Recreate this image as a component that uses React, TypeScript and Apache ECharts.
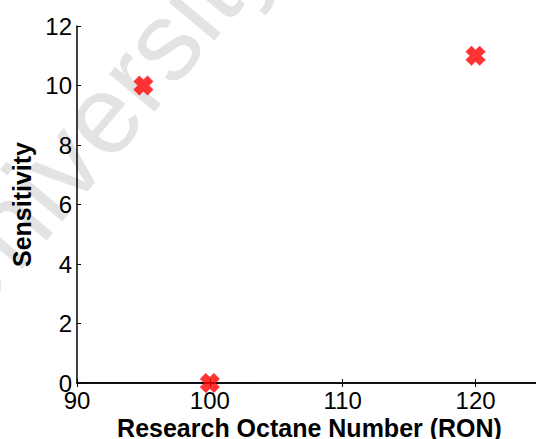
import React, { useEffect, useRef } from "react";
import * as echarts from "echarts";

const xTicks = [90, 100, 110, 120];
const ronValues = [95, 100, 120];
const sensitivityValues = [10, 0, 11];
const xName = "Research Octane Number (RON)";
const yName = "Sensitivity";
const watermark = "University";

const FONT = '"Liberation Sans", Arial, Helvetica, sans-serif';
const X_PATH =
  "path://M-1.25,-3L1.25,-3L1.25,-1.25L3,-1.25L3,1.25L1.25,1.25L1.25,3L-1.25,3L-1.25,1.25L-3,1.25L-3,-1.25L-1.25,-1.25Z";

export default function App() {
  const ref = useRef<HTMLDivElement>(null);
  useEffect(() => {
    if (!ref.current) return;
    const chart = echarts.init(ref.current, undefined, { renderer: "svg" });
    const data = ronValues.map((x, i) => [x, sensitivityValues[i]]);
    const axisLine = { show: true, lineStyle: { color: "#000", width: 1.5 } };
    const axisTick = { show: true, inside: true, length: 4, lineStyle: { color: "#000", width: 1 } };
    chart.setOption({
      animation: false,
      backgroundColor: "#fff",
      graphic: [
        {
          type: "text",
          x: 94,
          y: 124,
          rotation: (50 * Math.PI) / 180,
          z: -10,
          silent: true,
          style: {
            text: watermark,
            fontSize: 112,
            fontFamily: FONT,
            fill: "#e3e3e3",
            align: "center",
            verticalAlign: "middle",
          },
        },
      ],
      grid: {
        left: 77,
        top: 26,
        width: 465,
        height: 357,
        containLabel: false,
        outerBoundsMode: "none",
      },
      xAxis: [
        {
          type: "value",
          min: 90,
          max: 125,
          interval: 10,
          position: "bottom",
          name: xName,
          nameLocation: "middle",
          nameGap: 32,
          nameMoveOverlap: false,
          nameTextStyle: { fontFamily: FONT, fontSize: 25, fontWeight: "bold", color: "#000" },
          axisLine,
          axisTick,
          splitLine: { show: false },
          axisLabel: {
            fontFamily: FONT,
            fontSize: 24,
            color: "#000",
            margin: 5,
            showMaxLabel: false,
            formatter: (v: number) => (xTicks.includes(v) ? String(v) : ""),
          },
        },
        {
          type: "value",
          min: 90,
          max: 125,
          interval: 10,
          position: "top",
          axisLine,
          axisTick,
          axisLabel: { show: false },
          splitLine: { show: false },
        },
      ],
      yAxis: [
        {
          type: "value",
          min: 0,
          max: 12,
          interval: 2,
          position: "left",
          name: yName,
          nameLocation: "middle",
          nameGap: 43,
          nameMoveOverlap: false,
          nameTextStyle: { fontFamily: FONT, fontSize: 25, fontWeight: "bold", color: "#000" },
          axisLine,
          axisTick,
          splitLine: { show: false },
          axisLabel: { fontFamily: FONT, fontSize: 24, color: "#000", margin: 5 },
        },
        {
          type: "value",
          min: 0,
          max: 12,
          interval: 2,
          position: "right",
          axisLine,
          axisTick,
          axisLabel: { show: false },
          splitLine: { show: false },
        },
      ],
      series: [
        {
          type: "scatter",
          data,
          symbol: X_PATH,
          symbolSize: 20,
          symbolRotate: 45,
          clip: false,
          itemStyle: { color: "#ff0000" },
          z: 5,
        },
      ],
    });
    return () => chart.dispose();
  }, []);
  return (
    <div
      ref={ref}
      style={{ position: "fixed", left: 0, top: 0, width: 536, height: 439, background: "#fff" }}
    />
  );
}
